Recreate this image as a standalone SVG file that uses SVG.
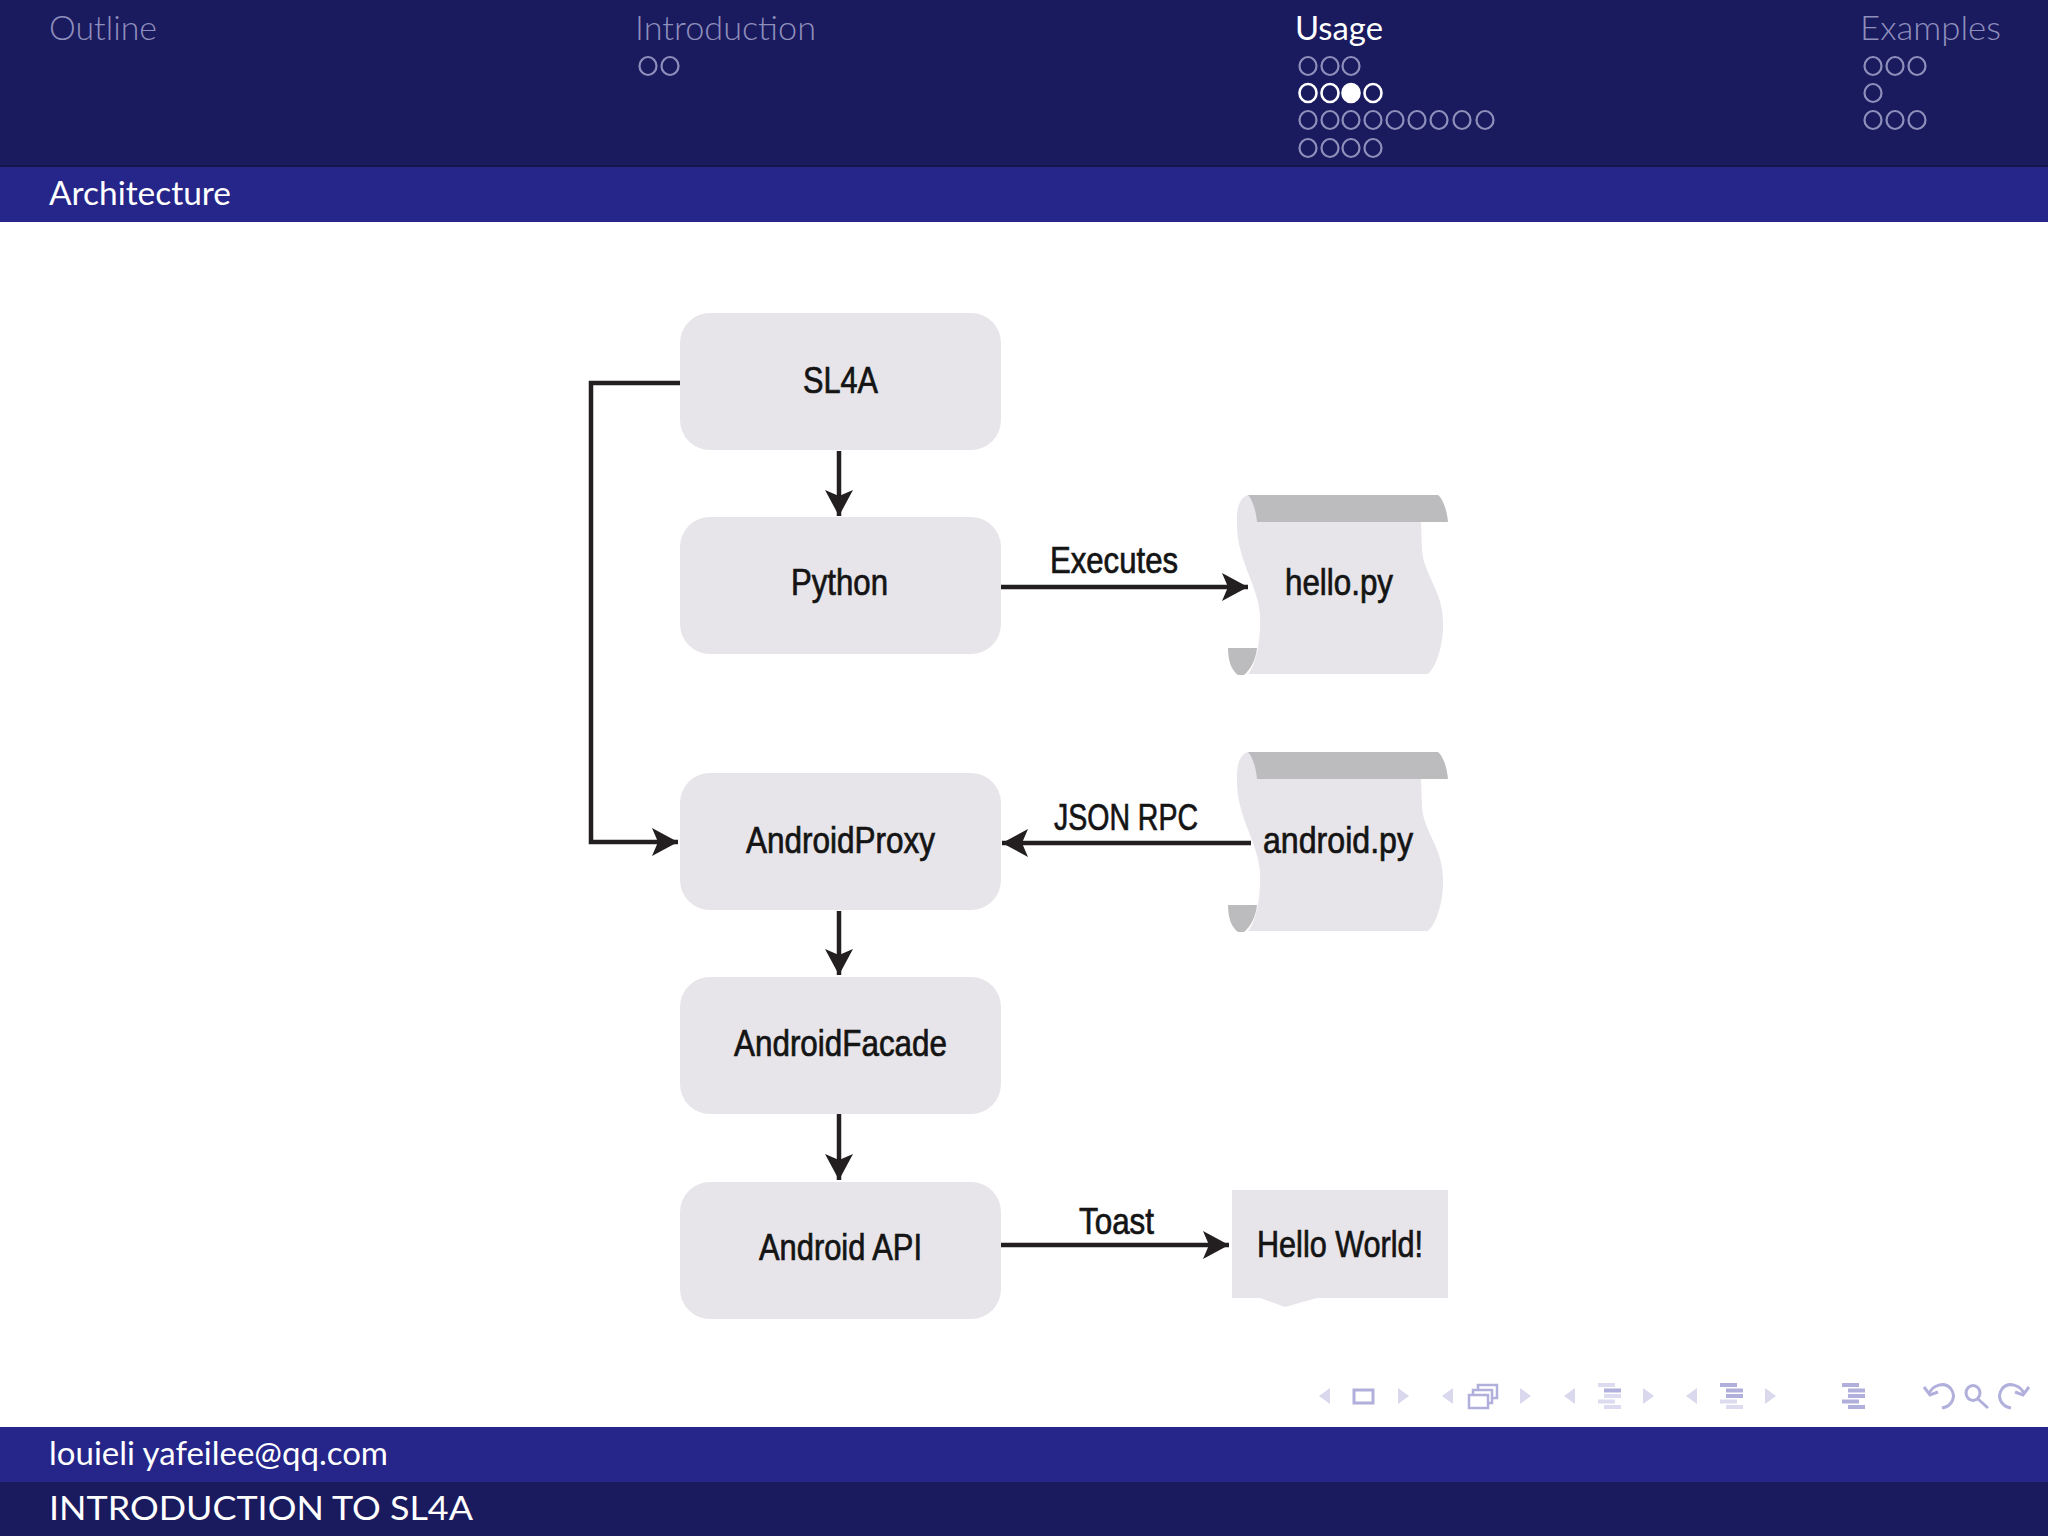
<svg xmlns="http://www.w3.org/2000/svg" width="2048" height="1536" viewBox="0 0 2048 1536">
<style>
.nav{font-family:"Lato","Open Sans",sans-serif;font-size:33px;font-weight:300;fill:#8f8fbc}
.on{fill:#fff;font-weight:400}
.bar{font-family:"Lato","Open Sans",sans-serif;font-size:33px;font-weight:400;fill:#fff}
.b{fill:#e7e5e9}
.g{fill:#bcbcbe}
.t{font-family:"Liberation Sans",Arial,sans-serif;font-size:36px;fill:#141414;stroke:#141414;stroke-width:.7}
.c{fill:none;stroke:#231f20;stroke-width:4.5}
.d ellipse{fill:none;stroke:#8f8fbc;stroke-width:2.2;rx:8.5px;ry:9px}
.a ellipse{fill:none;stroke:#fff;stroke-width:2.6;rx:8.5px;ry:9px}
.a ellipse.f{fill:#fff}
.tri{fill:#d9d8ec}
.ic{fill:none;stroke:#b1afdc;stroke-width:3}
.sq{fill:#fff;stroke:#b1afdc;stroke-width:2.5}
.l1{fill:#dcdbef}
.l2{fill:#b1afdc}
</style>
<defs>
<marker id="ah" markerUnits="userSpaceOnUse" markerWidth="30" markerHeight="32" refX="26" refY="15" orient="auto">
<path d="M0,1 L26,15 L0,29 L6,15 Z" fill="#231f20"/>
</marker>
<g id="scrollshape">
<path class="b" d="M1248,495 C1240,497 1236,508 1237,525 C1237,560 1258,585 1260,615 C1261,640 1256,665 1248,674 L1428,674 C1438,665 1444,640 1443,620 C1442,590 1424,575 1422,550 L1421,522 L1400,495 Z"/>
<path class="g" d="M1248,495 L1438,495 C1443,499 1447,510 1448,522 L1257,522 C1256,510 1252,499 1248,495 Z"/>
<path class="g" d="M1228,648 L1257,648 C1256,660 1250,670 1244,675 L1238,675 C1231,670 1228,660 1228,648 Z"/>
</g>
</defs>

<rect width="2048" height="1536" fill="#fff"/>

<g id="header">
<rect width="2048" height="167" fill="#1a1a5e"/>
<rect y="165" width="2048" height="2" fill="#15154e"/>
<rect y="167" width="2048" height="55" fill="#25258a"/>
<text class="nav" x="49" y="40" textLength="108" lengthAdjust="spacingAndGlyphs">Outline</text>
<text class="nav" x="635" y="40" textLength="181" lengthAdjust="spacingAndGlyphs">Introduction</text>
<text class="nav on" x="1295" y="40" textLength="88" lengthAdjust="spacingAndGlyphs">Usage</text>
<text class="nav" x="1860" y="40" textLength="141" lengthAdjust="spacingAndGlyphs">Examples</text>
<text class="bar" x="49" y="205" textLength="182" lengthAdjust="spacingAndGlyphs">Architecture</text>
<g class="d">
<ellipse cx="648" cy="66"/><ellipse cx="670" cy="66"/>
<ellipse cx="1308" cy="66"/><ellipse cx="1330" cy="66"/><ellipse cx="1351" cy="66"/>
<ellipse cx="1308" cy="120"/><ellipse cx="1330" cy="120"/><ellipse cx="1351" cy="120"/><ellipse cx="1373" cy="120"/><ellipse cx="1395" cy="120"/><ellipse cx="1417" cy="120"/><ellipse cx="1439" cy="120"/><ellipse cx="1462" cy="120"/><ellipse cx="1485" cy="120"/>
<ellipse cx="1308" cy="148"/><ellipse cx="1330" cy="148"/><ellipse cx="1351" cy="148"/><ellipse cx="1373" cy="148"/>
<ellipse cx="1873" cy="66"/><ellipse cx="1895" cy="66"/><ellipse cx="1917" cy="66"/>
<ellipse cx="1873" cy="93"/>
<ellipse cx="1873" cy="120"/><ellipse cx="1895" cy="120"/><ellipse cx="1917" cy="120"/>
</g>
<g class="a">
<ellipse cx="1308" cy="93"/><ellipse cx="1330" cy="93"/><ellipse class="f" cx="1351" cy="93"/><ellipse cx="1373" cy="93"/>
</g>
</g>

<g id="node-sl4a"><rect class="b" x="680" y="313" width="321" height="137" rx="30"/><text class="t" x="803" y="393" textLength="75" lengthAdjust="spacingAndGlyphs">SL4A</text></g>
<g id="node-python"><rect class="b" x="680" y="517" width="321" height="137" rx="30"/><text class="t" x="791" y="595" textLength="97" lengthAdjust="spacingAndGlyphs">Python</text></g>
<g id="node-androidproxy"><rect class="b" x="680" y="773" width="321" height="137" rx="30"/><text class="t" x="746" y="853" textLength="189" lengthAdjust="spacingAndGlyphs">AndroidProxy</text></g>
<g id="node-androidfacade"><rect class="b" x="680" y="977" width="321" height="137" rx="30"/><text class="t" x="734" y="1056" textLength="213" lengthAdjust="spacingAndGlyphs">AndroidFacade</text></g>
<g id="node-androidapi"><rect class="b" x="680" y="1182" width="321" height="137" rx="30"/><text class="t" x="759" y="1260" textLength="163" lengthAdjust="spacingAndGlyphs">Android API</text></g>

<g id="node-hello-py"><use href="#scrollshape"/><text class="t" x="1285" y="595" textLength="108" lengthAdjust="spacingAndGlyphs">hello.py</text></g>
<g id="node-android-py"><use href="#scrollshape" y="257"/><text class="t" x="1263" y="853" textLength="150" lengthAdjust="spacingAndGlyphs">android.py</text></g>
<g id="node-hello-world"><path class="b" d="M1232,1190 H1448 V1298 H1317 L1285,1307 L1260,1298 H1232 Z"/><text class="t" x="1257" y="1257" textLength="166" lengthAdjust="spacingAndGlyphs">Hello World!</text></g>

<g id="connectors">
<path class="c" d="M839,451 V516" marker-end="url(#ah)"/>
<path class="c" d="M680,383 H591 V842 H678" marker-end="url(#ah)"/>
<path class="c" d="M1001,587 H1248" marker-end="url(#ah)"/>
<path class="c" d="M1251,843 H1002" marker-end="url(#ah)"/>
<path class="c" d="M839,911 V975" marker-end="url(#ah)"/>
<path class="c" d="M839,1114 V1180" marker-end="url(#ah)"/>
<path class="c" d="M1001,1245 H1229" marker-end="url(#ah)"/>
</g>

<g id="labels">
<text class="t" x="1050" y="573" textLength="128" lengthAdjust="spacingAndGlyphs">Executes</text>
<text class="t" x="1054" y="830" textLength="144" lengthAdjust="spacingAndGlyphs">JSON RPC</text>
<text class="t" x="1079" y="1234" textLength="75" lengthAdjust="spacingAndGlyphs">Toast</text>
</g>

<g id="nav-icons">
<path class="tri" d="M1330,1388 V1404 L1319,1396 Z M1398,1388 V1404 L1409,1396 Z M1453,1388 V1404 L1442,1396 Z M1520,1388 V1404 L1531,1396 Z M1575,1388 V1404 L1564,1396 Z M1643,1388 V1404 L1654,1396 Z M1697,1388 V1404 L1686,1396 Z M1765,1388 V1404 L1776,1396 Z"/>
<rect class="ic" x="1354" y="1390" width="19" height="13"/>
<rect class="sq" x="1478" y="1385" width="19" height="13"/>
<rect class="sq" x="1473" y="1390" width="19" height="13"/>
<rect class="sq" x="1469" y="1395" width="19" height="13"/>
<g transform="translate(1598,1383)"><rect class="l1" width="17" height="4"/><rect class="l2" x="6" y="5.500" width="17" height="4"/><rect class="l1" x="6" y="11" width="17" height="4"/><rect class="l1" y="16.500" width="17" height="4"/><rect class="l1" x="6" y="22" width="17" height="4"/></g>
<g transform="translate(1720,1383)"><rect class="l2" width="17" height="4"/><rect class="l2" x="6" y="5.500" width="17" height="4"/><rect class="l2" x="6" y="11" width="17" height="4"/><rect class="l1" y="16.500" width="17" height="4"/><rect class="l1" x="6" y="22" width="17" height="4"/></g>
<g transform="translate(1842,1383)"><rect class="l2" width="17" height="4"/><rect class="l2" x="6" y="5.500" width="17" height="4"/><rect class="l2" x="6" y="11" width="17" height="4"/><rect class="l2" y="16.500" width="17" height="4"/><rect class="l2" x="6" y="22" width="17" height="4"/></g>
<path class="ic" d="M1929,1394 C1932,1385 1945,1381 1951,1389 C1956,1396 1953,1406 1942,1408 M1924,1387 L1930,1395 L1938,1392"/>
<ellipse class="ic" cx="1973" cy="1393" rx="7" ry="7.500"/>
<path class="ic" d="M1978,1399 L1988,1408"/>
<path class="ic" d="M2024,1394 C2021,1385 2008,1381 2002,1389 C1997,1396 2000,1406 2011,1408 M2029,1387 L2023,1395 L2015,1392"/>
</g>

<g id="footer">
<rect y="1427" width="2048" height="55" fill="#25258a"/>
<rect y="1482" width="2048" height="54" fill="#1a1a5e"/>
<text class="bar" x="49" y="1465" textLength="339" lengthAdjust="spacingAndGlyphs">louieli yafeilee@qq.com</text>
<text class="bar" x="49" y="1520" textLength="424" lengthAdjust="spacingAndGlyphs">INTRODUCTION TO SL4A</text>
</g>
</svg>
